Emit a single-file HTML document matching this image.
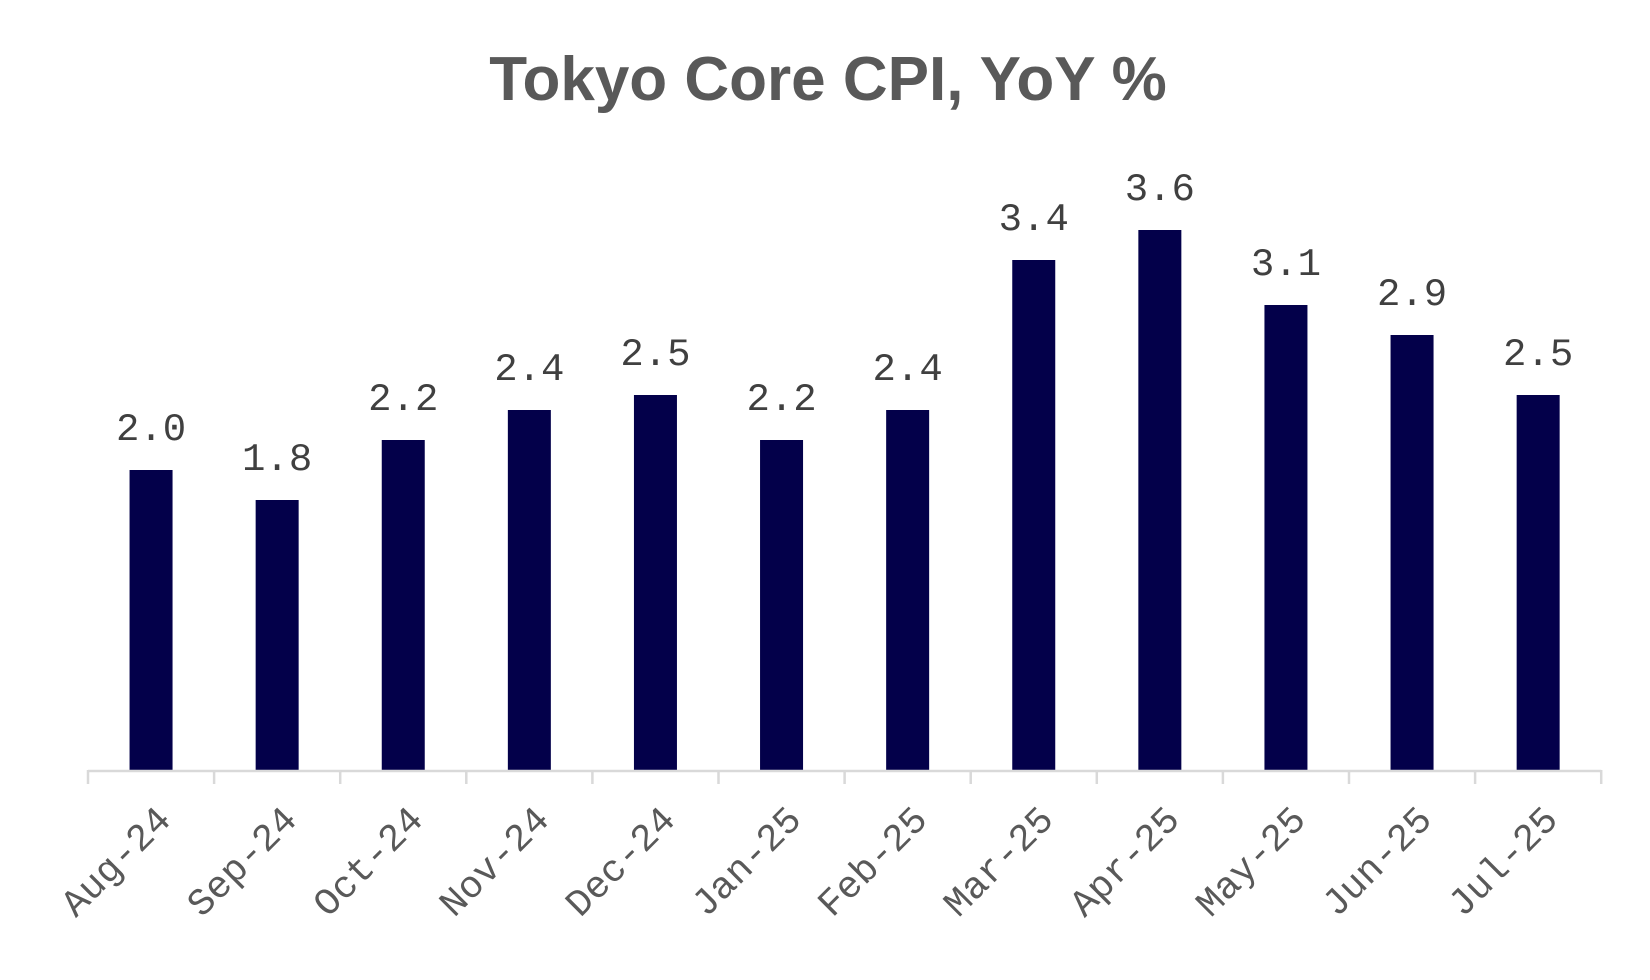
<!DOCTYPE html>
<html><head><meta charset="utf-8"><style>
html,body{margin:0;padding:0;background:#fff;}
svg{display:block;}
</style></head><body>
<svg id="chart" width="1650" height="980" viewBox="0 0 1650 980" xmlns="http://www.w3.org/2000/svg">
<text x="828" y="100" text-anchor="middle" font-family="Liberation Sans, sans-serif" font-weight="bold" font-size="62" fill="#595959">Tokyo Core CPI, YoY %</text>
<g id="bars"></g>
<g id="axis"></g>
</svg>
<script>
const categories = ["Aug-24","Sep-24","Oct-24","Nov-24","Dec-24","Jan-25","Feb-25","Mar-25","Apr-25","May-25","Jun-25","Jul-25"];
const values = [2.0,1.8,2.2,2.4,2.5,2.2,2.4,3.4,3.6,3.1,2.9,2.5];
const valueLabels = ["2.0","1.8","2.2","2.4","2.5","2.2","2.4","3.4","3.6","3.1","2.9","2.5"];

const NS = "http://www.w3.org/2000/svg";
const x0 = 88, step = 126.1, axisY = 770, perUnit = 150, barW = 43;
function xCenter(i){ return x0 + step*(i+0.5); }
function yScale(v){ return axisY - v*perUnit; }
const bars = document.getElementById('bars');
const axis = document.getElementById('axis');

categories.forEach((c,i)=>{
  const cx = xCenter(i), top = yScale(values[i]);
  const r = document.createElementNS(NS,'rect');
  
  
  r.setAttribute('x', cx - barW/2); r.setAttribute('y', top);
  r.setAttribute('width', barW); r.setAttribute('height', axisY - top);
  r.setAttribute('fill', '#03004a');
  bars.appendChild(r);
  const t = document.createElementNS(NS,'text');
  
  
  t.setAttribute('x', cx); t.setAttribute('y', top - 30);
  t.setAttribute('text-anchor','middle');
  t.setAttribute('font-family','Liberation Mono, monospace');
  t.setAttribute('font-size','39'); t.setAttribute('fill','#404040');
  t.textContent = valueLabels[i];
  bars.appendChild(t);
  const l = document.createElementNS(NS,'text');
  
  
  const lx = cx + 4, ly = axisY + 34;
  l.setAttribute('x', lx); l.setAttribute('y', ly);
  l.setAttribute('text-anchor','end');
  l.setAttribute('dominant-baseline','hanging');
  l.setAttribute('transform','rotate(-45 '+lx+' '+ly+')');
  l.setAttribute('font-family','Liberation Mono, monospace');
  l.setAttribute('font-size','38'); l.setAttribute('fill','#595959');
  l.textContent = c;
  axis.appendChild(l);
});
const line = document.createElementNS(NS,'line');


line.setAttribute('x1', x0); line.setAttribute('x2', x0 + step*categories.length);
line.setAttribute('y1', axisY+1); line.setAttribute('y2', axisY+1);
line.setAttribute('stroke','#d9d9d9'); line.setAttribute('stroke-width','2.5');
axis.appendChild(line);
for(let i=0;i<=categories.length;i++){
  const tk = document.createElementNS(NS,'line');
  
  
  tk.setAttribute('x1', x0+step*i); tk.setAttribute('x2', x0+step*i);
  tk.setAttribute('y1', axisY); tk.setAttribute('y2', axisY+14);
  tk.setAttribute('stroke','#d9d9d9'); tk.setAttribute('stroke-width','2.5');
  axis.appendChild(tk);
}
</script>
</body></html>
